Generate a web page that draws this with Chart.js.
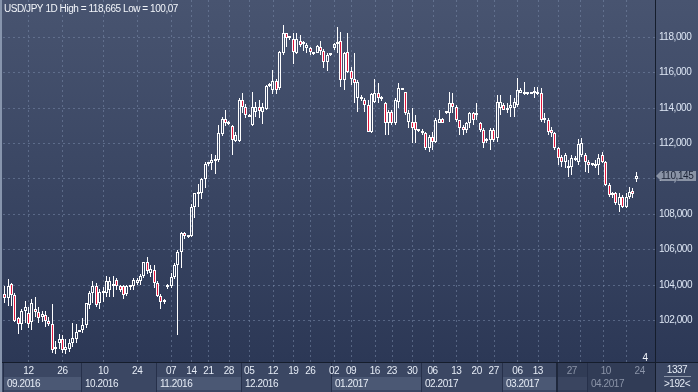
<!DOCTYPE html>
<html>
<head>
<meta charset="utf-8">
<script src="https://cdn.jsdelivr.net/npm/chart.js@4.4.1/dist/chart.umd.min.js"></script>
<style>
  html, body { margin: 0; padding: 0; background: #2d3955; }
  canvas { display: block; }
</style>
</head>
<body>
<canvas id="chart" width="698" height="392"></canvas>
<script>
// USD/JPY daily candles, Sep 2016 - Apr 2017
const open = [
  103.47,103.22,104.05,103.43,102.10,101.80,102.50,102.42,101.90,102.60,
  102.45,102.15,102.30,101.95,101.80,100.35,100.70,100.95,100.30,100.35,
  100.70,100.95,101.35,101.45,101.70,102.85,103.50,103.95,102.95,103.60,
  103.55,103.70,103.90,104.25,103.90,103.90,103.45,103.85,103.90,104.10,
  104.20,104.50,105.30,104.65,104.85,104.10,103.35,103.00,103.85,103.90,
  104.45,105.10,105.85,106.90,106.72,106.75,108.41,109.10,109.16,109.96,
  110.82,110.90,111.00,111.05,112.50,113.35,113.15,112.95,112.10,112.10,
  114.45,114.05,113.60,113.05,113.75,114.05,113.75,113.95,115.25,115.00,
  115.50,115.10,117.10,118.20,117.95,117.90,117.10,117.75,117.60,117.40,
  117.35,117.10,117.10,117.45,117.20,116.60,116.98,117.36,117.60,117.80,
  115.57,117.13,116.08,115.60,114.53,114.60,114.44,114.16,112.65,114.30,
  114.82,114.55,114.25,113.12,113.78,113.12,114.35,115.05,114.91,113.22,
  113.22,113.22,112.70,112.56,112.56,111.71,112.37,112.08,113.16,113.35,
  113.70,113.68,114.25,114.06,113.31,112.93,112.74,113.12,113.68,113.59,
  113.12,112.74,112.12,112.18,112.74,112.27,113.97,114.16,113.87,113.97,
  113.97,114.16,114.85,114.91,114.78,114.80,114.82,114.91,114.82,113.31,
  113.31,112.74,112.55,111.70,111.23,110.95,110.67,110.65,111.14,110.95,
  111.33,111.33,110.95,110.76,110.71,110.76,111.33,110.95,109.63,109.07,
  109.16,108.50,108.94,108.41,108.94,109.29,109.99
];
const high = [
  103.94,104.30,104.10,103.50,102.15,102.60,103.10,102.75,103.20,103.30,
  102.75,102.50,102.50,102.15,102.90,100.80,101.20,101.15,100.90,100.90,
  101.85,101.80,101.40,102.10,102.95,103.65,104.20,104.10,103.75,103.85,
  104.50,104.45,104.50,104.40,104.00,104.00,104.00,103.95,104.40,104.40,
  104.60,105.30,105.55,105.10,105.10,104.20,103.45,103.20,104.05,104.65,
  105.25,105.95,106.95,106.95,106.80,108.55,109.20,109.70,110.00,110.95,
  110.95,111.40,111.30,113.00,113.50,113.90,113.25,113.00,112.60,114.55,
  114.85,114.20,113.65,114.90,114.30,114.45,114.25,115.30,115.40,116.15,
  115.60,117.20,118.665,118.25,118.00,118.25,118.25,118.10,117.75,117.65,
  117.45,117.15,117.55,117.75,117.30,117.10,117.05,117.68,118.58,118.30,
  117.17,118.20,116.30,117.08,115.57,114.70,114.53,114.44,114.82,115.60,
  115.38,114.65,114.35,113.87,113.87,114.53,115.38,115.10,114.91,113.87,
  113.97,113.59,112.75,112.78,112.65,112.46,112.65,113.40,113.87,113.40,
  113.75,114.91,114.82,114.16,113.31,113.03,113.22,113.78,113.78,114.25,
  113.22,112.84,112.27,112.84,112.84,114.72,114.72,114.25,114.25,114.72,
  114.53,115.66,115.10,115.48,114.85,114.85,115.19,115.19,115.10,113.68,
  113.40,112.93,112.65,111.80,111.33,111.42,111.05,111.33,111.27,112.22,
  112.27,111.42,111.05,110.80,111.05,111.37,111.52,110.98,109.73,109.26,
  109.26,109.16,109.07,109.16,109.54,109.45,110.39
];
const low = [
  102.96,102.80,102.80,101.90,101.20,101.45,101.85,101.55,101.45,102.15,
  101.85,101.90,101.60,101.65,100.15,100.10,100.35,100.15,100.07,100.20,
  100.45,100.70,101.30,101.25,101.55,102.65,102.95,102.75,102.60,103.00,
  103.30,103.30,103.30,103.70,103.60,103.20,103.35,103.70,103.70,104.00,
  104.00,104.40,104.60,104.45,103.80,103.30,102.60,102.90,103.75,103.80,
  104.30,101.15,104.93,106.60,106.62,106.70,107.77,108.40,108.85,109.45,
  110.70,110.46,110.25,110.95,112.40,112.95,113.00,111.35,112.05,112.05,
  113.70,113.40,113.45,112.95,113.50,113.40,113.10,113.90,115.15,114.75,
  114.75,115.00,117.00,117.45,117.85,116.50,117.05,117.45,117.20,117.10,
  117.00,117.00,117.10,117.00,116.25,116.05,116.90,117.27,117.08,115.20,
  115.00,115.95,115.29,114.25,113.78,114.40,113.78,112.60,112.55,114.25,
  114.25,114.40,112.46,112.46,113.00,113.03,113.97,114.98,113.59,112.84,
  111.99,111.99,112.62,112.46,111.61,111.52,111.61,111.99,113.12,113.22,
  113.65,113.22,113.68,113.22,112.46,112.46,112.55,112.84,113.03,113.31,
  112.65,111.70,111.99,111.61,112.08,112.08,113.59,113.87,113.68,113.50,
  113.50,114.06,114.85,114.72,114.70,114.75,114.53,114.72,113.22,113.12,
  112.46,112.37,111.61,110.76,110.67,110.57,110.10,110.20,111.00,110.76,
  111.24,110.39,110.29,110.70,110.58,110.20,110.86,109.58,108.97,108.88,
  108.50,108.13,108.31,108.31,108.82,108.88,109.82
];
const close = [
  103.22,103.90,103.43,101.95,101.80,102.50,102.75,101.80,102.95,102.48,
  102.10,102.35,101.95,101.75,100.30,100.45,100.95,100.32,100.45,100.72,
  101.00,101.35,101.33,101.70,102.95,103.55,103.95,102.85,103.60,103.50,
  104.20,104.20,104.00,103.90,103.72,103.40,103.90,103.90,104.25,104.25,
  104.50,105.30,104.75,104.90,104.10,103.35,103.00,103.15,103.95,104.45,
  105.10,105.85,106.90,106.75,106.70,108.41,109.16,109.20,109.96,110.82,
  110.90,111.05,111.10,112.55,113.35,113.15,113.10,112.15,112.48,114.45,
  114.05,113.60,113.50,114.05,114.05,113.80,114.05,115.25,115.35,115.50,
  115.00,117.15,118.20,117.95,117.93,117.15,117.90,117.55,117.62,117.55,
  117.15,117.05,117.50,117.20,116.60,117.00,117.00,117.60,117.74,115.55,
  117.08,116.04,115.60,115.38,115.47,114.48,114.16,112.65,114.80,114.82,
  114.53,114.48,113.12,113.78,113.12,114.44,115.10,115.00,113.68,113.68,
  112.84,112.74,112.68,112.65,111.71,112.37,112.08,113.31,113.35,113.16,
  113.72,114.25,114.06,113.31,112.84,112.74,113.12,113.68,113.31,113.68,
  112.74,111.99,112.10,112.74,112.18,114.35,114.35,113.87,114.00,114.16,
  114.35,115.00,115.00,114.78,114.80,114.78,114.91,114.78,113.31,113.40,
  112.65,112.55,111.71,111.14,110.95,111.33,110.57,111.14,111.05,111.95,
  111.99,110.95,110.76,110.74,110.82,111.14,110.95,109.63,109.07,109.12,
  108.60,108.97,108.41,108.97,109.26,109.12,110.145
];

const slotCount = 192;                 // bars on screen (">192<")
const priceTicks = [102, 104, 106, 108, 110, 112, 114, 116, 118];
const yMin = 99.57, yMax = 120.09;

// day ticks on the time axis: slot index and text
const dayIdx  = [7, 17, 29, 39, 49, 55, 60, 66, 72, 79, 85, 90, 97, 102, 109, 114, 120, 126, 133, 139, 144, 151, 157, 167, 177, 187];
const dayText = ['12','26','10','24','07','14','21','28','05','12','19','26','02','09','16','23','30','06','13','20','27','06','13','27','10','24'];
// vertical grid (weekly) - after 13.03 the grid keeps its own spacing
const gridIdx = [7, 17, 29, 39, 49, 55, 60, 66, 72, 79, 85, 90, 97, 102, 109, 114, 120, 126, 133, 139, 144, 151, 157, 163, 169.5, 176.3, 183];
const months     = ['09.2016','10.2016','11.2016','12.2016','01.2017','02.2017','03.2017','04.2017'];
const monthStart = [-0.5, 22.5, 44.5, 69.5, 96, 122.5, 146.5, 171.5];
const futureFrom = 162.5;   // greyed part of the time axis

const lastPrice = 110.145;
const RED = '#e2163c';
const FONT = '"Liberation Sans", Arial, sans-serif';

const upperWick = open.map((o, i) => [Math.max(o, close[i]), high[i]]);
const lowerWick = open.map((o, i) => [low[i], Math.min(o, close[i])]);
const bodies = open.map((o, i) => [o, close[i]]);
const bodyColor = open.map((o, i) => close[i] < o ? RED : 'rgba(0,0,0,0)');
const labels = Array.from({ length: slotCount }, (_, i) => i);

const fmt = v => v.toFixed(3).replace('.', ',');

function txt(ctx, s, x, y, align, color, size) {
  ctx.font = (size || 10) + 'px ' + FONT;
  ctx.letterSpacing = '-0.45px';
  ctx.textAlign = align;
  ctx.textBaseline = 'middle';
  ctx.fillStyle = color;
  ctx.fillText(s, x, y);
}

// snap the candles to whole pixels so they stay crisp
const snap = {
  id: 'snap',
  beforeDatasetsDraw(chart) {
    chart.getSortedVisibleDatasetMetas().forEach(meta => {
      meta.data.forEach(el => {
        el.x = Math.floor(el.x) + 0.5;
        el.y = Math.round(el.y);
        el.base = Math.round(el.base);
      });
    });
  }
};

const decor = {
  id: 'decor',
  beforeDraw(chart) {
    const { ctx } = chart;
    const g = ctx.createLinearGradient(0, 0, 0, 363);
    g.addColorStop(0, '#485470');
    g.addColorStop(1, '#2c3856');
    ctx.save();
    ctx.fillStyle = g;
    ctx.fillRect(0, 0, 698, 363);
    ctx.restore();
  },
  beforeDatasetsDraw(chart) {
    const { ctx, chartArea: a, scales: { x, y } } = chart;
    ctx.save();
    ctx.strokeStyle = 'rgba(120,136,168,0.55)';
    ctx.lineWidth = 1;
    ctx.setLineDash([2, 3]);
    priceTicks.forEach(v => {
      const py = Math.round(y.getPixelForValue(v)) + 0.5;
      ctx.beginPath(); ctx.moveTo(a.left, py); ctx.lineTo(a.right, py); ctx.stroke();
    });
    gridIdx.forEach(i => {
      const px = Math.round(x.getPixelForValue(i)) + 0.5;
      ctx.beginPath(); ctx.moveTo(px, a.top); ctx.lineTo(px, a.bottom); ctx.stroke();
    });
    ctx.restore();
  },
  afterDraw(chart) {
    const { ctx, scales: { x, y } } = chart;
    ctx.save();
    // price labels
    priceTicks.forEach(v => txt(ctx, fmt(v), 659, Math.round(y.getPixelForValue(v)) + 0.5, 'left', '#dde6f4'));
    // time axis strip
    const top = 363, bot = 392;
    ctx.fillStyle = '#3b4763';
    ctx.fillRect(0, top, 656, bot - top);
    const fx = Math.round(x.getPixelForValue(futureFrom));
    ctx.fillStyle = '#313c56';
    ctx.fillRect(fx, top, 656 - fx, bot - top);
    // month boxes
    months.forEach((m, k) => {
      const x0 = Math.round(x.getPixelForValue(monthStart[k]));
      const x1 = k < months.length - 1 ? Math.round(x.getPixelForValue(monthStart[k + 1])) : 655;
      if (k % 2 === 0) {
        ctx.fillStyle = x0 >= fx ? '#3a4560' : '#4b5874';
        ctx.fillRect(x0 + 1, 377, Math.min(x1, fx) - x0 - 1, 13);
        if (x1 > fx) {
          ctx.fillStyle = '#3a4560';
          ctx.fillRect(fx, 377, x1 - fx, 13);
        }
      }
      ctx.fillStyle = '#26304a';
      ctx.fillRect(x0, top, 1, bot - top);
      txt(ctx, m, x0 + 4, 384, 'left', x0 >= fx ? '#8b94a8' : '#e6ecf6');
    });
    ctx.fillStyle = '#1f283c';
    ctx.fillRect(fx - 1, top, 2, bot - top);
    // day labels
    dayIdx.forEach((i, k) => {
      const px = x.getPixelForValue(i);
      txt(ctx, dayText[k], px, 371, 'center', px >= fx ? '#8b94a8' : '#e6ecf6');
    });
    // frame lines
    ctx.fillStyle = '#151d2c';
    ctx.fillRect(0, 362, 698, 1);
    ctx.fillRect(655, 0, 1, 392);
    ctx.fillStyle = '#8795ad';
    ctx.fillRect(0, 0, 2, 392);
    // corner box
    ctx.fillStyle = '#3b4763';
    ctx.fillRect(656, 363, 42, 29);
    txt(ctx, '1337', 677, 370, 'center', '#e6ecf6');
    txt(ctx, '>192<', 677, 384, 'center', '#e6ecf6');
    ctx.fillStyle = '#8d97aa';
    ctx.fillRect(664, 376, 27, 1);
    // last price tag
    const ly = Math.round(y.getPixelForValue(lastPrice));
    ctx.fillStyle = '#8a93a5';
    ctx.beginPath();
    ctx.moveTo(656, ly); ctx.lineTo(661, ly - 5); ctx.lineTo(696, ly - 5);
    ctx.lineTo(696, ly + 5); ctx.lineTo(661, ly + 5); ctx.closePath(); ctx.fill();
    txt(ctx, fmt(lastPrice), 661, ly + 0.5, 'left', '#1b2336');
    // title and bar counter
    txt(ctx, 'USD/JPY 1D High = ' + fmt(Math.max(...high)) +
      ' Low = ' + String(Math.min(...low)).replace('.', ','), 4, 9, 'left', '#f2f5fa');
    txt(ctx, '4', 645, 358, 'center', '#f2f5fa');
    ctx.restore();
  }
};

const common = { grouped: false, inflateAmount: 0, borderWidth: 0, backgroundColor: '#ffffff', barThickness: 1 };

new Chart(document.getElementById('chart'), {
  type: 'bar',
  data: {
    labels: labels,
    datasets: [
      Object.assign({ data: upperWick }, common),
      Object.assign({ data: lowerWick }, common),
      {
        data: bodies,
        grouped: false,
        inflateAmount: 0,
        barThickness: 3,
        backgroundColor: bodyColor,
        borderColor: '#ffffff',
        borderWidth: 1,
        borderSkipped: false,
        minBarLength: 2
      }
    ]
  },
  options: {
    responsive: false,
    devicePixelRatio: 1,
    animation: false,
    layout: { padding: { left: 3, right: 0, top: 0, bottom: 29 } },
    plugins: { legend: { display: false }, tooltip: { enabled: false } },
    scales: {
      x: { display: false, offset: true },
      y: {
        position: 'right',
        min: yMin,
        max: yMax,
        grid: { display: false, drawTicks: false },
        border: { display: false },
        ticks: { display: false },
        afterBuildTicks: ax => { ax.ticks = priceTicks.map(v => ({ value: v })); },
        afterFit: ax => { ax.width = 43; ax.paddingTop = 0; ax.paddingBottom = 0; }
      }
    }
  },
  plugins: [snap, decor]
});
</script>
</body>
</html>
